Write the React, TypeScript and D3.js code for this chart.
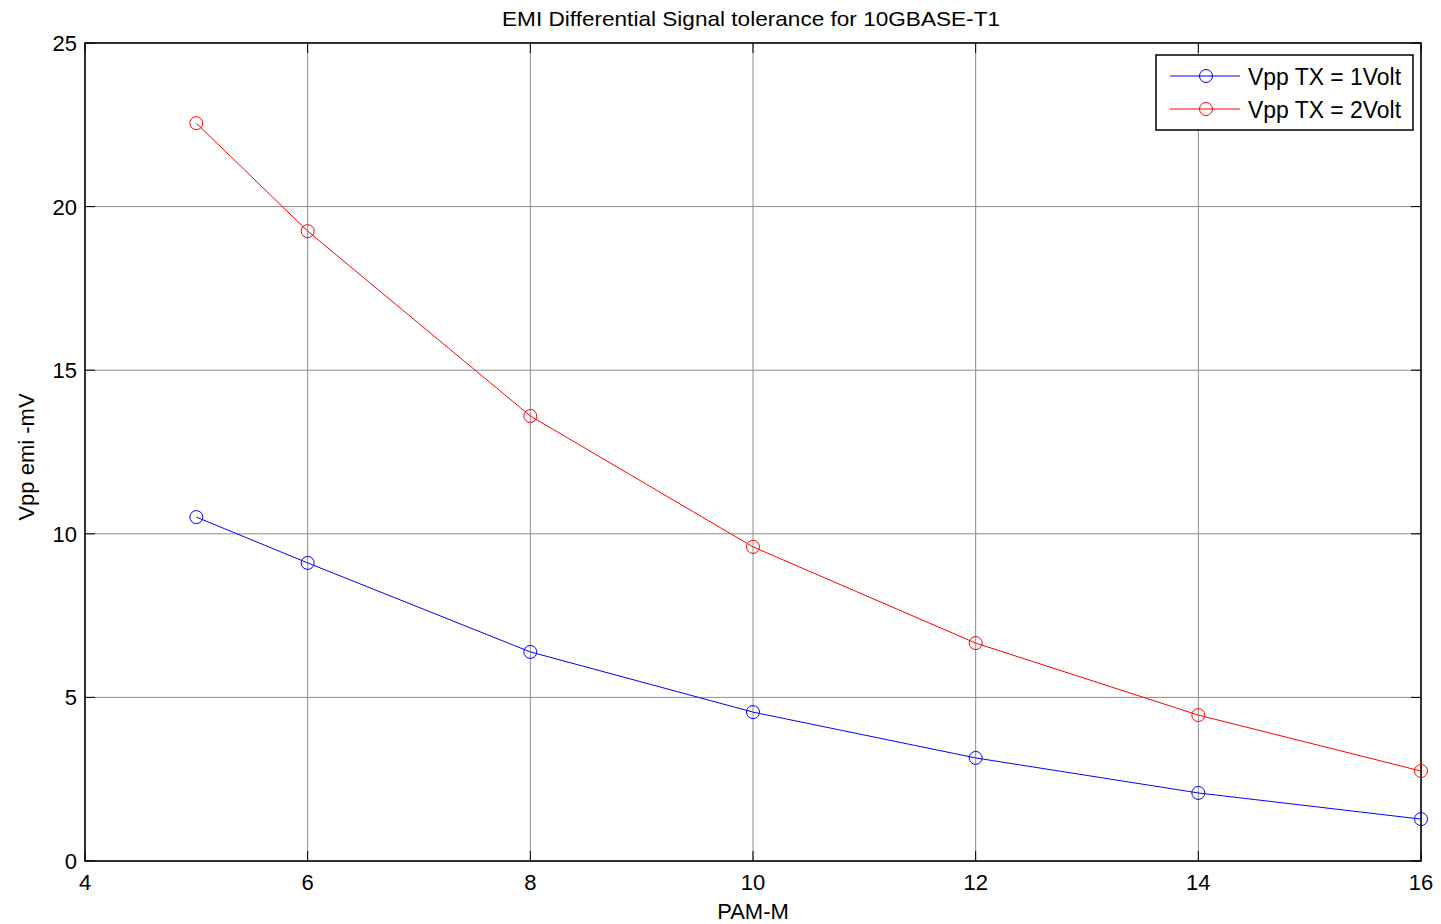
import React from "react";
import * as d3 from "d3";

const pamM = [5, 6, 8, 10, 12, 14, 16];
const vpp1Volt = [10.51, 9.11, 6.39, 4.55, 3.15, 2.08, 1.28];
const vpp2Volt = [22.55, 19.25, 13.6, 9.6, 6.66, 4.46, 2.75];
const xTicks = [4, 6, 8, 10, 12, 14, 16];
const yTicks = [0, 5, 10, 15, 20, 25];
const seriesNames = ["Vpp TX = 1Volt", "Vpp TX = 2Volt"];
const seriesColors = ["#0000ff", "#ff0000"];

const W = 1441, H = 924;
const L = 85, T = 43, R = 1421, B = 861;

export default function App() {
  const x = d3.scaleLinear().domain([4, 16]).range([L, R]);
  const y = d3.scaleLinear().domain([0, 25]).range([B, T]);
  const line = d3.line<number>().x((_, i) => x(pamM[i])).y((d) => y(d));
  const series = [vpp1Volt, vpp2Volt];
  const font = "Liberation Sans, Arial, sans-serif";
  return (
    <svg width={W} height={H} style={{ position: "absolute", left: 0, top: 0, background: "#fff" }} fontFamily={font}>
      <rect x={0} y={0} width={W} height={H} fill="#fff" />
      {xTicks.map((t) => (
        <line key={"gx" + t} x1={x(t)} x2={x(t)} y1={T} y2={B} stroke="#8c8c8c" strokeWidth={1} />
      ))}
      {yTicks.map((t) => (
        <line key={"gy" + t} x1={L} x2={R} y1={y(t)} y2={y(t)} stroke="#8c8c8c" strokeWidth={1} />
      ))}
      {xTicks.map((t) => (
        <g key={"tx" + t}>
          <line x1={x(t)} x2={x(t)} y1={B} y2={B - 10} stroke="#000" />
          <line x1={x(t)} x2={x(t)} y1={T} y2={T + 10} stroke="#000" />
          <text x={x(t)} y={B + 29} fontSize={22} textAnchor="middle" fill="#000">{t}</text>
        </g>
      ))}
      {yTicks.map((t) => (
        <g key={"ty" + t}>
          <line x1={L} x2={L + 10} y1={y(t)} y2={y(t)} stroke="#000" />
          <line x1={R} x2={R - 10} y1={y(t)} y2={y(t)} stroke="#000" />
          <text x={L - 8} y={y(t) + 8} fontSize={22} textAnchor="end" fill="#000">{t}</text>
        </g>
      ))}
      <rect x={L} y={T} width={R - L} height={B - T} fill="none" stroke="#000" strokeWidth={1.5} />
      {series.map((s, si) => (
        <g key={"s" + si}>
          <path d={line(s) || ""} fill="none" stroke={seriesColors[si]} strokeWidth={1} />
          {s.map((v, i) => (
            <circle key={i} cx={x(pamM[i])} cy={y(v)} r={6.5} fill="none" stroke={seriesColors[si]} strokeWidth={1} />
          ))}
        </g>
      ))}
      <text x={(L + R) / 2 - 2} y={26} fontSize={21} textAnchor="middle" fill="#000" textLength={498} lengthAdjust="spacingAndGlyphs">EMI Differential Signal tolerance for 10GBASE-T1</text>
      <text x={(L + R) / 2} y={919} fontSize={22} textAnchor="middle" fill="#000">PAM-M</text>
      <text transform={`translate(34, ${(T + B) / 2 + 5}) rotate(-90)`} fontSize={22} textAnchor="middle" fill="#000">Vpp emi -mV</text>
      <g>
        <rect x={1156} y={55} width={257} height={75} fill="#fff" stroke="#000" strokeWidth={1.5} />
        {seriesNames.map((n, i) => {
          const ly = 76 + i * 33;
          return (
            <g key={n}>
              <line x1={1170} x2={1240} y1={ly} y2={ly} stroke={seriesColors[i]} />
              <circle cx={1206} cy={ly} r={6.5} fill="none" stroke={seriesColors[i]} />
              <text x={1248} y={ly + 9} fontSize={23} fill="#000" textLength={153} lengthAdjust="spacingAndGlyphs">{n}</text>
            </g>
          );
        })}
      </g>
    </svg>
  );
}
